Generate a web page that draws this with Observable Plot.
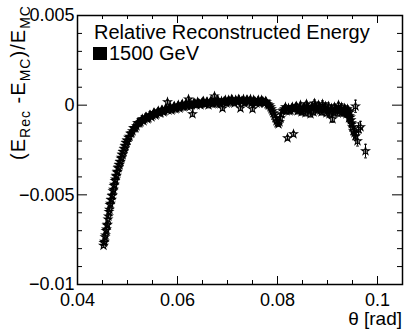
<!DOCTYPE html>
<html><head><meta charset="utf-8">
<script src="https://cdn.jsdelivr.net/npm/d3@7"></script>
<script src="https://cdn.jsdelivr.net/npm/@observablehq/plot@0.6"></script>
<style>
body{margin:0;background:#fff}
svg{font-family:"Liberation Sans",Arial,Helvetica,sans-serif}
</style>
</head><body><div id="chart"></div>
<script>
// ---- data ----
const theta = [
0.0452,0.0453,0.0454,0.0455,0.0456,0.0457,0.0458,0.0459,0.0460,0.0461,
0.0462,0.0463,0.0464,0.0465,0.0466,0.0467,0.0468,0.0469,0.0470,0.0471,
0.0472,0.0473,0.0474,0.0475,0.0476,0.0477,0.0478,0.0479,0.0480,0.0481,
0.0482,0.0483,0.0484,0.0485,0.0486,0.0487,0.0488,0.0489,0.0490,0.0491,
0.0492,0.0493,0.0494,0.0495,0.0496,0.0497,0.0498,0.0499,0.0500,0.0502,
0.0504,0.0506,0.0508,
0.0510,0.0514,0.0518,0.0522,0.0526,0.0530,0.0534,0.0538,0.0542,0.0546,
0.0550,0.0554,0.0558,0.0562,0.0566,0.0570,0.0574,0.0578,0.0580,0.0582,
0.0586,0.0590,0.0594,0.0598,0.0602,0.0606,0.0610,0.0614,0.0618,0.0622,
0.0626,0.0630,0.0634,0.0638,0.0642,0.0646,0.0650,0.0654,0.0658,0.0662,
0.0666,0.0670,0.0674,0.0678,0.0682,0.0686,0.0690,0.0694,0.0698,0.0702,
0.0706,0.0710,0.0714,0.0718,0.0722,0.0726,0.0730,0.0734,0.0738,0.0742,
0.0746,0.0750,0.0754,0.0758,0.0762,0.0766,0.0770,0.0774,0.0778,0.0782,
0.0786,0.0790,0.0794,0.0796,0.0798,0.0800,0.0802,0.0804,0.0806,0.0808,
0.0810,0.0814,0.0818,0.0820,0.0822,0.0826,0.0830,0.0832,0.0834,0.0838,
0.0842,0.0846,0.0850,0.0854,0.0858,0.0862,0.0866,0.0870,0.0874,0.0878,
0.0882,0.0886,0.0890,0.0894,0.0898,0.0902,0.0906,0.0910,0.0914,0.0918,
0.0922,0.0926,0.0930,0.0934,0.0938,0.0940,0.0942,0.0944,0.0946,0.0948,
0.0950,0.0952,0.0954,0.0956,0.0956,0.0960,0.0962,0.0966,0.0976,
// in-between bins of the dense band
0.0512,0.0516,0.0520,0.0524,0.0528,0.0532,0.0536,0.0540,0.0544,0.0548,
0.0552,0.0556,0.0560,0.0564,0.0568,0.0572,0.0576,0.0584,0.0588,0.0592,
0.0596,0.0600,0.0604,0.0608,0.0612,0.0616,0.0620,0.0624,0.0628,0.0632,
0.0636,0.0640,0.0644,0.0648,0.0652,0.0656,0.0660,0.0664,0.0668,0.0672,
0.0676,0.0680,0.0684,0.0688,0.0692,0.0696,0.0700,0.0704,0.0708,0.0712,
0.0716,0.0720,0.0724,0.0728,0.0732,0.0736,0.0740,0.0744,0.0748,0.0752,
0.0756,0.0760,0.0764,0.0768,0.0772,0.0776,0.0780,0.0784,0.0788,0.0792,
0.0812,0.0816,0.0824,0.0828,0.0836,0.0840,0.0844,0.0848,0.0852,0.0856,
0.0860,0.0864,0.0868,0.0872,0.0876,0.0880,0.0884,0.0888,0.0892,0.0896,
0.0900,0.0904,0.0908,0.0912,0.0916,0.0920,0.0924,0.0928,0.0932,0.0936,
0.0941,0.0943,0.0945,0.0947,0.0949
];
const rel = [
-0.00783,-0.00768,-0.00760,-0.00735,-0.00725,-0.00700,-0.00692,-0.00670,-0.00665,-0.00636,
-0.00620,-0.00594,-0.00582,-0.00556,-0.00548,-0.00528,-0.00526,-0.00506,-0.00503,-0.00479,
-0.00470,-0.00449,-0.00442,-0.00421,-0.00414,-0.00396,-0.00392,-0.00374,-0.00370,-0.00351,
-0.00347,-0.00332,-0.00331,-0.00316,-0.00314,-0.00297,-0.00292,-0.00276,-0.00275,-0.00260,
-0.00259,-0.00244,-0.00242,-0.00228,-0.00225,-0.00210,-0.00209,-0.00196,-0.00197,-0.00181,
-0.00175,-0.00158,-0.00155,
-0.00144,-0.00128,-0.00117,-0.00100,-0.00094,-0.00078,-0.00078,-0.00067,-0.00072,-0.00056,
-0.00056,-0.00044,-0.00050,-0.00033,-0.00044,-0.00028,-0.00033,-0.00022, 0.00017,-0.00028,
-0.00011,-0.00022,-0.00006,-0.00017, 0.00000,-0.00011, 0.00006,-0.00006, 0.00006, 0.00033,
-0.00006,-0.00050, 0.00011, 0.00000, 0.00011, 0.00000, 0.00017, 0.00006, 0.00017, 0.00000,
 0.00022, 0.00006, 0.00050, 0.00011, 0.00022, 0.00006,-0.00017, 0.00022, 0.00011, 0.00028,
 0.00017, 0.00028, 0.00011, 0.00022, 0.00033,-0.00017, 0.00022, 0.00011, 0.00028, 0.00017,
 0.00033,-0.00022, 0.00022, 0.00011, 0.00028, 0.00017, 0.00022, 0.00011, 0.00017, 0.00000,
-0.00011,-0.00033,-0.00056,-0.00072,-0.00089,-0.00100,-0.00106,-0.00094,-0.00072,-0.00050,
-0.00033,-0.00022,-0.00033,-0.00183,-0.00017,-0.00028,-0.00011,-0.00161,-0.00022,-0.00006,
-0.00028, 0.00000,-0.00033,-0.00011, 0.00006,-0.00022,-0.00050,-0.00006, 0.00011,-0.00017,
 0.00000,-0.00028, 0.00006,-0.00022,-0.00044,-0.00006,-0.00033,-0.00078,-0.00011,-0.00028,
 0.00000,-0.00022,-0.00039,-0.00017,-0.00050,-0.00022,-0.00033,-0.00061,-0.00067,-0.00100,
-0.00122,-0.00144,-0.00156,-0.00172,-0.00006,-0.00200,-0.00133,-0.00122,-0.00256,
-0.00128,-0.00128,-0.00100,-0.00100,-0.00083,-0.00089,-0.00067,-0.00078,-0.00056,-0.00067,
-0.00044,-0.00056,-0.00039,-0.00044,-0.00028,-0.00039,-0.00022,-0.00017,-0.00028,-0.00011,
-0.00022,-0.00006,-0.00017, 0.00000,-0.00011, 0.00006,-0.00006, 0.00011, 0.00000, 0.00011,
 0.00006, 0.00017, 0.00006, 0.00011, 0.00022, 0.00006, 0.00017, 0.00011, 0.00022, 0.00011,
 0.00017, 0.00028, 0.00011, 0.00022, 0.00017, 0.00028, 0.00017, 0.00022, 0.00033, 0.00017,
 0.00028, 0.00017, 0.00028, 0.00022, 0.00033, 0.00017, 0.00028, 0.00022, 0.00011, 0.00028,
 0.00017, 0.00022, 0.00011, 0.00028, 0.00017, 0.00022, 0.00006, 0.00000,-0.00022,-0.00044,
-0.00028,-0.00011,-0.00033,-0.00017,-0.00011,-0.00033,-0.00017,-0.00039,-0.00022,-0.00044,
-0.00011,-0.00033,-0.00017,-0.00039,-0.00006,-0.00028,-0.00011,-0.00039,-0.00017,-0.00006,
-0.00028,-0.00050,-0.00017,-0.00039,-0.00022,-0.00044,-0.00028,-0.00011,-0.00044,-0.00028,
-0.00044,-0.00072,-0.00039,-0.00083,-0.00106
];
const err = [
0.00010,0.00010,0.00010,0.00010,0.00010,0.00010,0.00010,0.00010,0.00010,0.00010,
0.00010,0.00010,0.00010,0.00010,0.00010,0.00010,0.00010,0.00010,0.00010,0.00010,
0.00010,0.00010,0.00010,0.00010,0.00010,0.00010,0.00010,0.00010,0.00010,0.00010,
0.00010,0.00010,0.00010,0.00010,0.00010,0.00010,0.00010,0.00010,0.00010,0.00010,
0.00010,0.00010,0.00010,0.00010,0.00010,0.00010,0.00010,0.00010,0.00010,0.00010,
0.00010,0.00010,0.00010,
0.00010,0.00010,0.00010,0.00010,0.00010,0.00010,0.00010,0.00010,0.00010,0.00010,
0.00010,0.00010,0.00010,0.00010,0.00010,0.00010,0.00010,0.00010,0.00012,0.00010,
0.00010,0.00010,0.00010,0.00010,0.00010,0.00010,0.00010,0.00010,0.00010,0.00012,
0.00010,0.00012,0.00010,0.00010,0.00010,0.00010,0.00010,0.00010,0.00010,0.00010,
0.00010,0.00010,0.00012,0.00010,0.00010,0.00010,0.00012,0.00010,0.00010,0.00010,
0.00010,0.00010,0.00010,0.00010,0.00010,0.00012,0.00010,0.00010,0.00010,0.00010,
0.00012,0.00012,0.00012,0.00012,0.00012,0.00012,0.00012,0.00012,0.00012,0.00012,
0.00012,0.00012,0.00012,0.00012,0.00012,0.00012,0.00012,0.00012,0.00012,0.00012,
0.00012,0.00014,0.00014,0.00012,0.00014,0.00014,0.00014,0.00012,0.00014,0.00016,
0.00014,0.00016,0.00014,0.00016,0.00016,0.00014,0.00016,0.00016,0.00018,0.00016,
0.00016,0.00016,0.00018,0.00016,0.00016,0.00018,0.00016,0.00018,0.00016,0.00018,
0.00016,0.00018,0.00018,0.00018,0.00018,0.00018,0.00018,0.00020,0.00020,0.00020,
0.00022,0.00024,0.00024,0.00026,0.00034,0.00028,0.00034,0.00032,0.00038,
0.00010,0.00010,0.00010,0.00010,0.00010,0.00010,0.00010,0.00010,0.00010,0.00010,
0.00010,0.00010,0.00010,0.00010,0.00010,0.00010,0.00010,0.00010,0.00010,0.00010,
0.00010,0.00010,0.00010,0.00010,0.00010,0.00010,0.00010,0.00010,0.00010,0.00010,
0.00010,0.00010,0.00010,0.00010,0.00010,0.00010,0.00010,0.00010,0.00010,0.00010,
0.00010,0.00010,0.00010,0.00010,0.00010,0.00010,0.00010,0.00010,0.00010,0.00010,
0.00012,0.00012,0.00012,0.00012,0.00012,0.00012,0.00012,0.00012,0.00012,0.00012,
0.00012,0.00012,0.00012,0.00012,0.00012,0.00012,0.00012,0.00012,0.00012,0.00012,
0.00014,0.00014,0.00016,0.00016,0.00016,0.00016,0.00016,0.00016,0.00016,0.00016,
0.00016,0.00016,0.00016,0.00016,0.00016,0.00016,0.00016,0.00016,0.00016,0.00016,
0.00018,0.00018,0.00018,0.00018,0.00018,0.00018,0.00018,0.00018,0.00018,0.00018,
0.00020,0.00020,0.00020,0.00020,0.00020
];
const xMajor = [0.04, 0.06, 0.08, 0.1];
const xLabels = ["0.04", "0.06", "0.08", "0.1"];
const yMajor = [-0.01, -0.005, 0, 0.005];
const yLabels = ["\u22120.01", "\u22120.005", "0", "0.005"];
const xTitle = "\u03b8 [rad]";
const legendTitle = "Relative Reconstructed Energy";
const legendEntry = "1500 GeV";

// ---- build ----
const data = theta.map((t, i) => ({t, v: rel[i], e: err[i]}));
const xMinor = d3.range(0, 14).map(i => +(0.04 + i * 0.005).toFixed(3)).filter(d => !xMajor.includes(d));
const yMinor = d3.range(0, 16).map(i => +(-0.01 + i * 0.001).toFixed(3)).filter(d => !yMajor.includes(d));

const W = 404, H = 330, mL = 77, mR = 2, mT = 15, mB = 46;
const innerH = H - mT - mB, innerW = W - mL - mR;
const capSymbol = {draw(ctx, size) { const w = Math.sqrt(size) / 2; ctx.moveTo(-w, 0); ctx.lineTo(w, 0); }};

const plot = Plot.plot({
  width: W, height: H,
  marginLeft: mL, marginRight: mR, marginTop: mT, marginBottom: mB,
  style: {fontFamily: '"Liberation Sans", Arial, sans-serif', color: "black", background: "white"},
  x: {domain: [0.04, 0.105], label: null},
  y: {domain: [-0.01, 0.005], label: null},
  marks: [
    Plot.ruleX(data, {x: "t", y1: d => d.v - d.e, y2: d => d.v + d.e, stroke: "black", strokeWidth: 1}),
    Plot.dot(data, {x: "t", y: d => d.v + d.e, symbol: capSymbol, r: 1.6, stroke: "black", strokeWidth: 1, fill: "none"}),
    Plot.dot(data, {x: "t", y: d => d.v - d.e, symbol: capSymbol, r: 1.6, stroke: "black", strokeWidth: 1, fill: "none"}),
    Plot.dot(data, {x: "t", y: "v", symbol: "star", r: 2.4, stroke: "black", strokeWidth: 1.1, fill: "none"}),
    Plot.tickX(xMajor, {x: d => d, insetTop: innerH - 8, stroke: "black", strokeWidth: 1}),
    Plot.tickX(xMinor, {x: d => d, insetTop: innerH - 4, stroke: "black", strokeWidth: 1}),
    Plot.tickX(xMajor, {x: d => d, insetBottom: innerH - 8, stroke: "black", strokeWidth: 1}),
    Plot.tickX(xMinor, {x: d => d, insetBottom: innerH - 4, stroke: "black", strokeWidth: 1}),
    Plot.tickY(yMajor, {y: d => d, insetRight: innerW - 10, stroke: "black", strokeWidth: 1}),
    Plot.tickY(yMinor, {y: d => d, insetRight: innerW - 5, stroke: "black", strokeWidth: 1}),
    Plot.tickY(yMajor, {y: d => d, insetLeft: innerW - 10, stroke: "black", strokeWidth: 1}),
    Plot.tickY(yMinor, {y: d => d, insetLeft: innerW - 5, stroke: "black", strokeWidth: 1}),
    Plot.frame({stroke: "black", strokeWidth: 1.5}),
    Plot.axisX(xMajor, {tickSize: 0, tickPadding: 9, fontSize: 18, fill: "black", label: null,
      tickFormat: d => xLabels[xMajor.indexOf(d)]}),
    Plot.axisY(yMajor, {tickSize: 0, tickPadding: 3, fontSize: 18, fill: "black", label: null,
      tickFormat: d => yLabels[yMajor.indexOf(d)]})
  ]
});
document.getElementById("chart").append(plot);

// ---- titles and legend ----
const svg = d3.select(plot);
const ff = '"Liberation Sans", Arial, sans-serif';
svg.append("text").attr("x", 402).attr("y", 325).attr("text-anchor", "end")
  .attr("font-size", 19).attr("font-family", ff).attr("fill", "black").text(xTitle);
const yt = svg.append("text").attr("transform", "translate(25,160) rotate(-90)")
  .attr("text-anchor", "start").attr("font-size", 20).attr("font-family", ff).attr("fill", "black")
  .attr("textLength", 154).attr("lengthAdjust", "spacing");
const parts = [["(E", false], ["Rec", true], [" -E", false], ["MC", true], [")/E", false], ["MC", true]];
for (const [s, sub] of parts) {
  const ts = yt.append("tspan").text(s);
  if (sub) ts.attr("font-size", 14).attr("dy", 5);
  else ts.attr("dy", s === "(E" ? 0 : -5);
}
svg.append("text").attr("x", 94).attr("y", 39).attr("text-anchor", "start").attr("font-size", 20)
  .attr("font-family", ff).attr("fill", "black").text(legendTitle);
svg.append("rect").attr("x", 93).attr("y", 47).attr("width", 14).attr("height", 13).attr("fill", "black");
svg.append("text").attr("x", 109).attr("y", 60).attr("text-anchor", "start").attr("font-size", 20)
  .attr("font-family", ff).attr("fill", "black").text(legendEntry);
</script>
</body></html>
